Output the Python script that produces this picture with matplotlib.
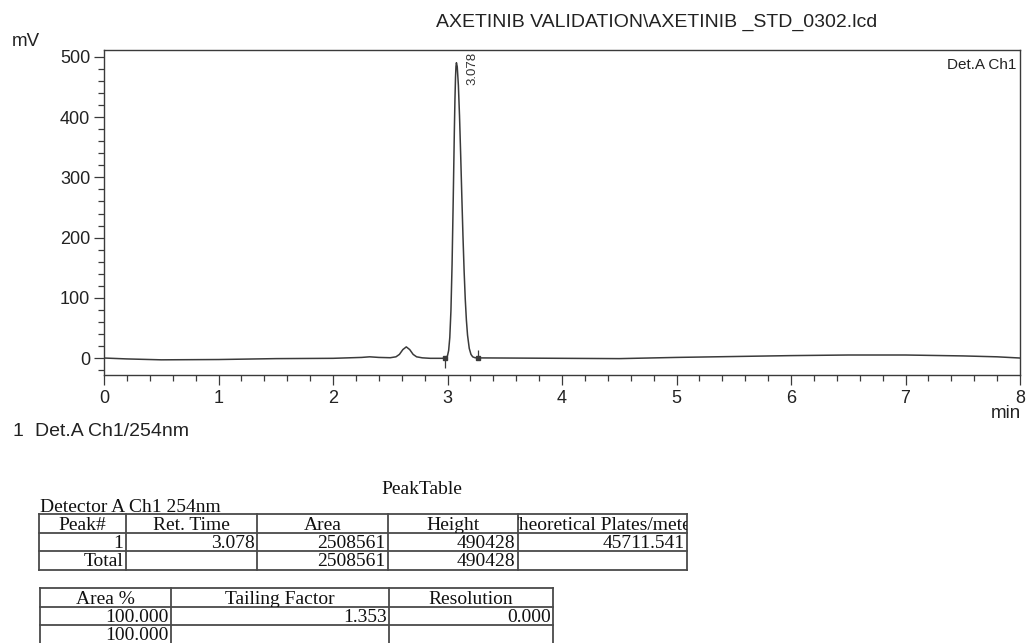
import matplotlib
matplotlib.use("Agg")
import matplotlib.pyplot as plt
from matplotlib.patches import Rectangle
from matplotlib.ticker import MultipleLocator, FixedLocator

plt.rcParams['font.family'] = ['Liberation Sans', 'DejaVu Sans']

# Det.A Ch1 254nm trace (time in min, signal in mV)
time_min = [0.0, 0.2, 0.5, 1.0, 1.5, 2.0, 2.25, 2.32, 2.4, 2.5,
            2.55, 2.58, 2.61, 2.64, 2.67, 2.70, 2.73, 2.78, 2.85, 2.95,
            2.97, 2.99, 3.00, 3.01, 3.02, 3.03, 3.04, 3.05, 3.06, 3.065,
            3.07, 3.074, 3.078, 3.085, 3.095, 3.105, 3.115, 3.125, 3.135, 3.145,
            3.155, 3.165, 3.175, 3.19, 3.205, 3.22, 3.24, 3.27, 3.5, 4.0,
            4.5, 5.0, 5.5, 6.0, 6.5, 7.0, 7.5, 7.8, 8.0]
signal_mv = [0.0, -1.5, -3.0, -2.5, -1.0, -0.5, 1.0, 2.0, 1.0, 0.5,
             2.0, 6.0, 14.0, 18.5, 14.0, 6.0, 2.0, 0.3, -0.5, -0.5,
             -0.3, 1.0, 3.9, 12.5, 34.0, 78.6, 156.0, 263.0, 379.0, 429.0,
             466.0, 484.3, 490.428, 484.0, 453.0, 402.0, 338.0, 269.0, 203.0, 145.0,
             98.0, 63.0, 38.0, 16.0, 6.0, 2.0, 0.5, 0.2, 0.0, -0.5,
             -1.0, 1.0, 2.5, 4.0, 5.0, 5.0, 3.5, 2.0, 0.0]

# integration marks (peak start / peak end, min)
peak_start = [2.98]
peak_end = [3.27]

ret_time = 3.078
peak_height = 490.428

# peak table
peak_headers = ['Peak#', 'Ret. Time', 'Area', 'Height', 'Theoretical Plates/meter']
peak_rows = [['1', '3.078', '2508561', '490428', '45711.541'],
             ['Total', '', '2508561', '490428', '']]
perf_headers = ['Area %', 'Tailing Factor', 'Resolution']
perf_rows = [['100.000', '1.353', '0.000'],
             ['100.000', '', '']]

W, H = 1026, 643
fig = plt.figure(figsize=(W / 100, H / 100), dpi=100)

line_col = '#3a3a3a'
txt_col = '#222222'
ax = fig.add_axes([104 / W, 1 - 375 / H, 916 / W, 325 / H])
ax.plot(time_min, signal_mv, color=line_col, lw=1.1)
ax.vlines(peak_start, -16, 0, color=line_col, lw=0.9)
ax.vlines(peak_end, 0, 14, color=line_col, lw=0.9)
ax.plot(peak_start + peak_end, [0, 0.5], 's', color=line_col, ms=2.5)

ax.set_xlim(0, 8)
ax.set_ylim(-28.2, 511.6)
ax.xaxis.set_major_locator(MultipleLocator(1))
ax.xaxis.set_minor_locator(MultipleLocator(0.2))
ax.yaxis.set_major_locator(FixedLocator([0, 100, 200, 300, 400, 500]))
ax.yaxis.set_minor_locator(FixedLocator(list(range(-20, 501, 20))))
ax.tick_params(which='both', direction='out', color=line_col, width=0.9,
               labelsize=13, labelcolor=txt_col)
ax.tick_params(which='major', length=7)
ax.tick_params(which='minor', length=4)
ax.tick_params(axis='x', pad=4)
ax.tick_params(axis='y', pad=3)
for s in ax.spines.values():
    s.set_color(line_col)
    s.set_linewidth(1.0)

# retention time label above the apex
ax.annotate(f'{ret_time:.3f}', xy=(ret_time, peak_height), xytext=(10, -22),
            textcoords='offset pixels', rotation=90, ha='left', va='bottom',
            fontsize=9.5, color='#333333')

ax.text(0.996, 0.954, 'Det.A Ch1', transform=ax.transAxes, ha='right', va='center',
        fontsize=11, color=txt_col)

fig.text(657 / W, 1 - 22 / H, 'AXETINIB VALIDATION\\AXETINIB _STD_0302.lcd',
         ha='center', va='center', fontsize=14, color=txt_col)
fig.text(12 / W, 1 - 42 / H, 'mV', ha='left', va='center', fontsize=13.5, color=txt_col)
fig.text(1021 / W, 1 - 413 / H, 'min', ha='right', va='center', fontsize=13.5, color=txt_col)
fig.text(13 / W, 1 - 432 / H, '1', ha='left', va='center', fontsize=14, color=txt_col)
fig.text(35 / W, 1 - 432 / H, 'Det.A Ch1/254nm', ha='left', va='center', fontsize=14,
         color=txt_col)

# tables, laid out in pixel coordinates on an overlay axes
tab = fig.add_axes([0, 0, 1, 1])
tab.set_xlim(0, W)
tab.set_ylim(H, 0)
tab.axis('off')

serif = ['Liberation Serif', 'DejaVu Serif']
tsize = 14
grid_col = '#4a4a4a'


def cell_text(x, y, s, ha, x0, y0, w, h):
    # text clipped to its own cell, long headers get cut at the borders
    t = tab.text(x, y, s, ha=ha, va='baseline', family=serif, fontsize=tsize,
                 color='#111111', clip_on=True)
    t.set_clip_path(Rectangle((x0, y0), w, h, transform=tab.transData))


def draw_table(cols, top, row_h, headers, rows):
    n = len(rows) + 1
    bottom = top + n * row_h
    for x in cols:
        tab.plot([x, x], [top, bottom], color=grid_col, lw=1.3)
    for i in range(n + 1):
        y = top + i * row_h
        tab.plot([cols[0], cols[-1]], [y, y], color=grid_col, lw=1.3)
    for j, h in enumerate(headers):
        x0, x1 = cols[j], cols[j + 1]
        cell_text((x0 + x1) / 2, top + row_h - 3, h, 'center', x0, top, x1 - x0, row_h)
    for i, row in enumerate(rows):
        y0 = top + (i + 1) * row_h
        for j, v in enumerate(row):
            if not v:
                continue
            x0, x1 = cols[j], cols[j + 1]
            cell_text(x1 - 2.5, y0 + row_h - 3, v, 'right', x0, y0, x1 - x0, row_h)


tab.text(422, 490, 'PeakTable', ha='center', va='center', family=serif,
         fontsize=tsize, color='#111111')
tab.text(40, 512, 'Detector A Ch1 254nm', ha='left', va='baseline', family=serif,
         fontsize=tsize, color='#111111')

draw_table([38.5, 126, 257, 388, 518, 687], 514, 18.5, peak_headers, peak_rows)
draw_table([39.5, 171, 389, 553], 588, 18.5, perf_headers, perf_rows)

fig.savefig('out.png', dpi=100)
